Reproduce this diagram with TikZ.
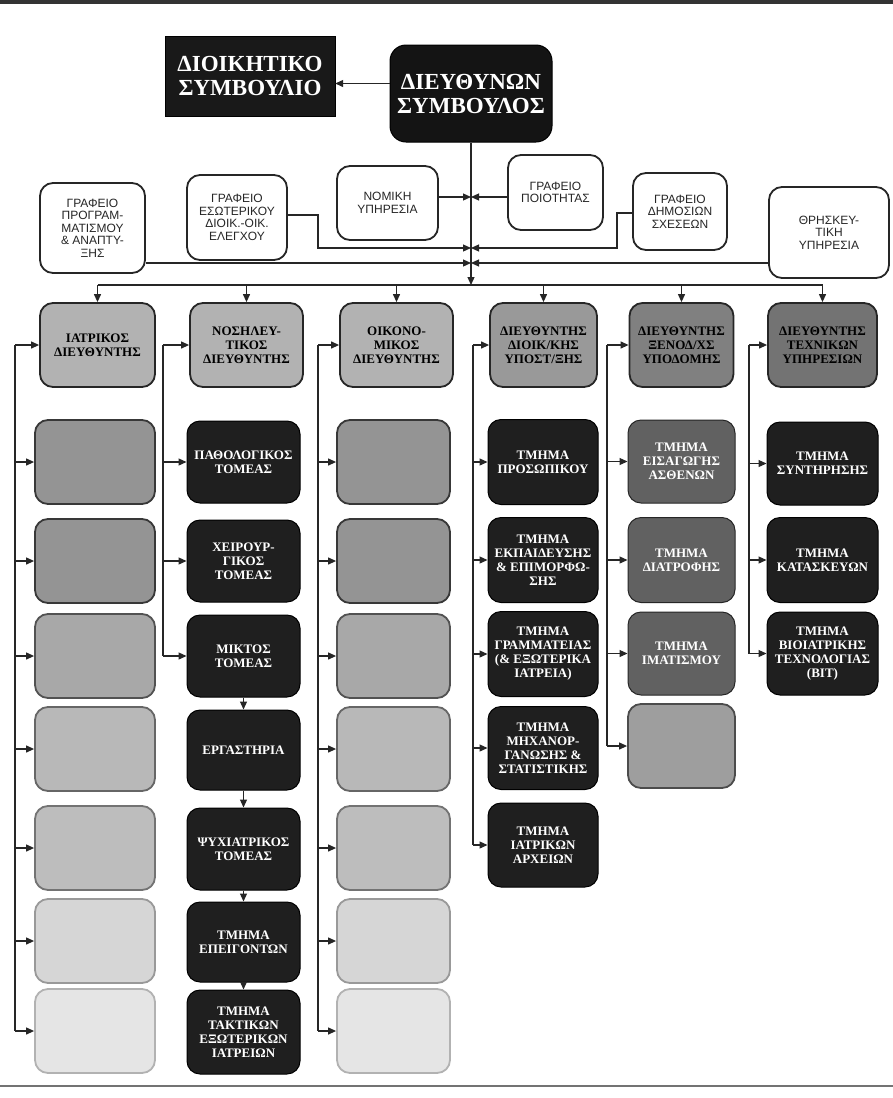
\documentclass[tikz,border=0pt]{standalone}
\usepackage{fontspec}
\setmainfont{Liberation Serif}
\newfontfamily\gsans{Liberation Sans}
\usetikzlibrary{arrows.meta}
\newcommand\bxf{\bfseries\fontsize{13}{14}\selectfont}
\newcommand\gsf{\gsans\fontsize{12}{12.5}\selectfont}
\newcommand\topf{\bfseries\fontsize{23}{24}\selectfont}
\tikzset{
  ln/.style={line width=1.2pt, draw=black!85},
  arr/.style={ln, -{Triangle[length=8pt,width=7pt]}},
  whitebox/.style={draw=black!85, line width=1.8pt, rounded corners=13pt, fill=white,
    font=\gsf, align=center, inner sep=0pt, text=black!85},
  darkbox/.style={draw=black, line width=1pt, rounded corners=13pt, fill=black!88,
    text=white, font=\bxf, align=center, inner sep=0pt},
  midbox/.style={darkbox, fill=black!62, draw=black!85},
  headbox/.style={draw=black!85, line width=1.8pt, rounded corners=13pt, fill=black!30,
    text=black, font=\bxf, align=center, inner sep=0pt, minimum height=84pt},
  greybox/.style={line width=1.8pt, rounded corners=13pt, inner sep=0pt, minimum height=84pt},
  bw/.style={minimum width=#1},
  bh/.style={minimum height=#1}
}
\begin{document}
\begin{tikzpicture}[x=1pt,y=-1pt]
\useasboundingbox (0,0) rectangle (893,1098);
\fill[white] (0,0) rectangle (893,1098);
% scan edges
\fill[black!80] (0,0) rectangle (893,4);
\draw[black!55, line width=1.2pt] (0,1086) -- (893,1086);

% top level
\node[draw=black, fill=black!90, text=white, font=\topf, align=center, inner sep=0pt,
      bw=170pt, bh=80pt] (db) at (250,76) {ΔΙΟΙΚΗΤΙΚΟ\\ΣΥΜΒΟΥΛΙΟ};
\node[darkbox, font=\topf, rounded corners=16pt, fill=black!92, bw=162pt, bh=97pt] (ds) at (471,93.5) {ΔΙΕΥΘΥΝΩΝ\\ΣΥΜΒΟΥΛΟΣ};
\draw[arr] ([yshift=10pt]ds.west) -- ([yshift=10pt]ds.west -| db.east);

% staff offices
\node[whitebox, bw=105pt, bh=90pt] (prog) at (92.5,228) {ΓΡΑΦΕΙΟ\\ΠΡΟΓΡΑΜ-\\ΜΑΤΙΣΜΟΥ\\\& ΑΝΑΠΤΥ-\\ΞΗΣ};
\node[whitebox, bw=100pt, bh=85pt] (eso) at (237,217.5) {ΓΡΑΦΕΙΟ\\ΕΣΩΤΕΡΙΚΟΥ\\ΔΙΟΙΚ.-ΟΙΚ.\\ΕΛΕΓΧΟΥ};
\node[whitebox, bw=101pt, bh=74pt] (nom) at (387.5,203) {ΝΟΜΙΚΗ\\ΥΠΗΡΕΣΙΑ};
\node[whitebox, bw=95pt, bh=75pt] (poi) at (555.5,192.5) {ΓΡΑΦΕΙΟ\\ΠΟΙΟΤΗΤΑΣ};
\node[whitebox, bw=94pt, bh=77pt] (dim) at (680,211.5) {ΓΡΑΦΕΙΟ\\ΔΗΜΟΣΙΩΝ\\ΣΧΕΣΕΩΝ};
\node[whitebox, bw=120pt, bh=91pt] (thr) at (829,232.5) {ΘΡΗΣΚΕΥ-\\ΤΙΚΗ\\ΥΠΗΡΕΣΙΑ};

\coordinate (t197) at (471,197);
\coordinate (t248) at (471,248);
\coordinate (t263) at (471,263);
\coordinate (tbot) at (471,285);
\coordinate (eJ) at (318,215);
\coordinate (dJ) at (617,213);

\draw[arr] (ds.south) -- (tbot);
\draw[arr] (nom.east |- t197) -- (t197);
\draw[arr] (poi.west |- t197) -- (t197);
\draw[arr] (eso.east |- eJ) -- (eJ) |- (t248);
\draw[arr] (dim.west |- dJ) -- (dJ) |- (t248);
\draw[arr] (prog.east |- t263) -- (t263);
\draw[arr] (thr.west |- t263) -- (t263);

% directors
\node[headbox, bw=115pt] (h1) at (97.5,345) {ΙΑΤΡΙΚΟΣ\\ΔΙΕΥΘΥΝΤΗΣ};
\node[headbox, bw=113pt] (h2) at (246.5,345) {ΝΟΣΗΛΕΥ-\\ΤΙΚΟΣ\\ΔΙΕΥΘΥΝΤΗΣ};
\node[headbox, bw=113pt] (h3) at (396.5,345) {ΟΙΚΟΝΟ-\\ΜΙΚΟΣ\\ΔΙΕΥΘΥΝΤΗΣ};
\node[headbox, bw=107pt, fill=black!40] (h4) at (543.5,345) {ΔΙΕΥΘΥΝΤΗΣ\\ΔΙΟΙΚ/ΚΗΣ\\ΥΠΟΣΤ/ΞΗΣ};
\node[headbox, bw=104pt, fill=black!50] (h5) at (681.5,345) {ΔΙΕΥΘΥΝΤΗΣ\\ΞΕΝΟΔ/ΧΣ\\ΥΠΟΔΟΜΗΣ};
\node[headbox, bw=109pt, fill=black!55] (h6) at (822.5,345) {ΔΙΕΥΘΥΝΤΗΣ\\ΤΕΧΝΙΚΩΝ\\ΥΠΗΡΕΣΙΩΝ};

\draw[ln] (h1.north |- tbot) -- (h6.north |- tbot);
\foreach \i in {1,...,6} \draw[arr] (h\i.north |- tbot) -- (h\i.north);

% side rails
\coordinate (v1) at (15,345);
\coordinate (v2) at (163,345);
\coordinate (v3) at (318,345);
\coordinate (v4) at (473,345);
\coordinate (v5) at (607,345);
\coordinate (v6) at (749,345);
\foreach \i in {1,...,6} \draw[arr] (h\i.west -| v\i) -- (h\i.west);

% column 1 and column 3 (illegible, faded boxes)
\foreach \r/\y/\s/\d in {1/462/42/78, 2/561/42/78, 3/656/34/68, 4/749/28/60, 5/848/26/55, 6/941/16/40, 7/1031/10/30} {
  \node[greybox, bw=120pt, fill=black!\s, draw=black!\d] (a\r) at (95,\y) {};
  \node[greybox, bw=113pt, fill=black!\s, draw=black!\d] (c\r) at (393.5,\y) {};
  \draw[arr] (a\r.west -| v1) -- (a\r.west);
  \draw[arr] (c\r.west -| v3) -- (c\r.west);
}
\draw[ln] (v1) -- (a7.west -| v1);
\draw[ln] (v3) -- (c7.west -| v3);

% column 2
\node[darkbox, bw=113pt, bh=82pt] (b1) at (243.5,462) {ΠΑΘΟΛΟΓΙΚΟΣ\\ΤΟΜΕΑΣ};
\node[darkbox, bw=113pt, bh=82pt] (b2) at (243.5,561) {ΧΕΙΡΟΥΡ-\\ΓΙΚΟΣ\\ΤΟΜΕΑΣ};
\node[darkbox, bw=113pt, bh=82pt] (b3) at (243.5,656) {ΜΙΚΤΟΣ\\ΤΟΜΕΑΣ};
\node[darkbox, bw=113pt, bh=80pt] (b4) at (243.5,750) {ΕΡΓΑΣΤΗΡΙΑ};
\node[darkbox, bw=113pt, bh=82pt] (b5) at (243.5,849) {ΨΥΧΙΑΤΡΙΚΟΣ\\ΤΟΜΕΑΣ};
\node[darkbox, bw=113pt, bh=80pt] (b6) at (243.5,942) {ΤΜΗΜΑ\\ΕΠΕΙΓΟΝΤΩΝ};
\node[darkbox, bw=113pt, bh=84pt] (b7) at (243.5,1032) {ΤΜΗΜΑ\\ΤΑΚΤΙΚΩΝ\\ΕΞΩΤΕΡΙΚΩΝ\\ΙΑΤΡΕΙΩΝ};
\foreach \r in {1,2,3} \draw[arr] (b\r.west -| v2) -- (b\r.west);
\draw[ln] (v2) -- (b3.west -| v2);
\draw[arr] (b3.south) -- (b4.north);
\draw[arr] (b4.south) -- (b5.north);
\draw[arr] (b5.south) -- (b6.north);
\draw[arr] (b6.south) -- (b7.north);

% column 4
\node[darkbox, bw=110pt, bh=85pt] (d1) at (543,462) {ΤΜΗΜΑ\\ΠΡΟΣΩΠΙΚΟΥ};
\node[darkbox, bw=110pt, bh=85pt] (d2) at (543,560) {ΤΜΗΜΑ\\ΕΚΠΑΙΔΕΥΣΗΣ\\\& ΕΠΙΜΟΡΦΩ-\\ΣΗΣ};
\node[darkbox, bw=110pt, bh=85pt] (d3) at (543,654) {ΤΜΗΜΑ\\ΓΡΑΜΜΑΤΕΙΑΣ\\(\& ΕΞΩΤΕΡΙΚΑ\\ΙΑΤΡΕΙΑ)};
\node[darkbox, bw=110pt, bh=83pt] (d4) at (543,748) {ΤΜΗΜΑ\\ΜΗΧΑΝΟΡ-\\ΓΑΝΩΣΗΣ \&\\ΣΤΑΤΙΣΤΙΚΗΣ};
\node[darkbox, bw=110pt, bh=84pt] (d5) at (543,845) {ΤΜΗΜΑ\\ΙΑΤΡΙΚΩΝ\\ΑΡΧΕΙΩΝ};
\foreach \r in {1,...,5} \draw[arr] (d\r.west -| v4) -- (d\r.west);
\draw[ln] (v4) -- (d5.west -| v4);

% column 5
\node[midbox, bw=107pt, bh=83pt] (e1) at (681.5,461.5) {ΤΜΗΜΑ\\ΕΙΣΑΓΩΓΗΣ\\ΑΣΘΕΝΩΝ};
\node[midbox, bw=107pt, bh=85pt] (e2) at (681.5,560) {ΤΜΗΜΑ\\ΔΙΑΤΡΟΦΗΣ};
\node[midbox, bw=107pt, bh=83pt] (e3) at (681.5,653.5) {ΤΜΗΜΑ\\ΙΜΑΤΙΣΜΟΥ};
\node[greybox, bw=107pt, fill=black!38, draw=black!70] (e4) at (681.5,746) {};
\foreach \r in {1,...,4} \draw[arr] (e\r.west -| v5) -- (e\r.west);
\draw[ln] (v5) -- (e4.west -| v5);

% column 6
\node[darkbox, bw=111pt, bh=83pt] (f1) at (822.5,463.5) {ΤΜΗΜΑ\\ΣΥΝΤΗΡΗΣΗΣ};
\node[darkbox, bw=111pt, bh=85pt] (f2) at (822.5,560) {ΤΜΗΜΑ\\ΚΑΤΑΣΚΕΥΩΝ};
\node[darkbox, bw=111pt, bh=83pt] (f3) at (822.5,653.5) {ΤΜΗΜΑ\\ΒΙΟΙΑΤΡΙΚΗΣ\\ΤΕΧΝΟΛΟΓΙΑΣ\\(ΒΙΤ)};
\foreach \r in {1,2,3} \draw[arr] (f\r.west -| v6) -- (f\r.west);
\draw[ln] (v6) -- (f3.west -| v6);
\end{tikzpicture}
\end{document}
